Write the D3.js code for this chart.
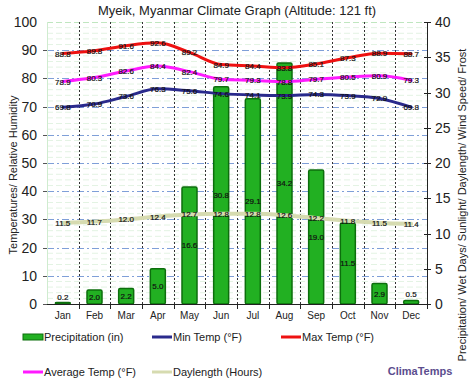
<!DOCTYPE html>
<html><head><meta charset="utf-8">
<script src="https://cdn.jsdelivr.net/npm/d3@7"></script>
<style>body{margin:0;background:#fff}svg{display:block}text{font-family:"Liberation Sans",Arial,sans-serif}</style>
</head><body><svg id="c" width="474" height="389"></svg>
<script>
const months=["Jan","Feb","Mar","Apr","May","Jun","Jul","Aug","Sep","Oct","Nov","Dec"];
const precip=[0.2,2.0,2.2,5.0,16.6,30.8,29.1,34.2,19.0,11.5,2.9,0.5];
const minTemp=[69.8,70.9,73.6,76.3,75.6,74.6,74.1,73.9,74.3,73.9,72.9,69.8];
const maxTemp=[88.8,89.8,91.6,92.6,89.2,84.9,84.4,83.8,85.1,87.3,88.9,88.7];
const avgTemp=[78.9,80.3,82.6,84.4,82.4,79.7,79.3,78.8,79.7,80.5,80.9,79.3];
const daylength=[11.5,11.7,12.0,12.4,12.7,12.8,12.8,12.6,12.2,11.8,11.5,11.4];
const leftTicks=[0,10,20,30,40,50,60,70,80,90,100];
const rightTicks=[0,5,10,15,20,25,30,35,40];

const svg=d3.select("#c");
const L=47,R=427,T=22,B=304;
const x=d3.scaleBand().domain(months).range([L,R]);
const yL=d3.scaleLinear().domain([0,100]).range([B,T]);
const yR=d3.scaleLinear().domain([0,40]).range([B,T]);
const cx=m=>x(m)+x.bandwidth()/2;

// minor grid
svg.append("g").selectAll("line").data(d3.range(2,100,2).filter(v=>v%10!==0)).join("line")
 .attr("x1",L).attr("x2",R).attr("y1",d=>yL(d)).attr("y2",d=>yL(d))
 .attr("stroke","#e3f3e3").attr("stroke-width",1).attr("stroke-dasharray","6,3");
// major grid
svg.append("g").selectAll("line").data(leftTicks.filter(v=>v>0&&v<100)).join("line")
 .attr("x1",L).attr("x2",R).attr("y1",d=>Math.round(yL(d))+0.5).attr("y2",d=>Math.round(yL(d))+0.5)
 .attr("stroke","#7f9fd8").attr("stroke-width",1).attr("stroke-dasharray","7,3,2,3");
svg.append("line").attr("x1",L).attr("x2",R).attr("y1",T+0.5).attr("y2",T+0.5)
 .attr("stroke","#bfe6bf").attr("stroke-dasharray","6,3");
svg.append("line").attr("x1",L+0.5).attr("x2",L+0.5).attr("y1",T).attr("y2",B)
 .attr("stroke","#cfeccf");
// vertical dotted
svg.append("g").selectAll("line").data(months.slice(1)).join("line")
 .attr("x1",d=>Math.round(x(d))+0.5).attr("x2",d=>Math.round(x(d))+0.5).attr("y1",T).attr("y2",B)
 .attr("stroke","#333").attr("stroke-width",1).attr("stroke-dasharray","2,2");

// bars
const bw=15;
svg.append("g").selectAll("rect").data(precip).join("rect")
 .attr("x",(d,i)=>cx(months[i])-bw/2).attr("width",bw)
 .attr("y",d=>yR(d)).attr("height",d=>B-yR(d))
 .attr("fill","#22b022").attr("stroke","#0c6e0c").attr("stroke-width",1.5).attr("rx",1.5);

// axes lines
svg.append("line").attr("x1",L-4).attr("x2",R).attr("y1",B+0.5).attr("y2",B+0.5).attr("stroke","#222");
svg.append("g").selectAll("line").data(months.slice(1).map(m=>x(m)).concat([R])).join("line")
 .attr("x1",d=>Math.round(d)+0.5).attr("x2",d=>Math.round(d)+0.5).attr("y1",B).attr("y2",B+5).attr("stroke","#222");
svg.append("line").attr("x1",R+0.5).attr("x2",R+0.5).attr("y1",T).attr("y2",B).attr("stroke","#222");
svg.append("g").selectAll("line").data(rightTicks).join("line")
 .attr("x1",R-3).attr("x2",R+4).attr("y1",d=>Math.round(yR(d))+0.5).attr("y2",d=>Math.round(yR(d))+0.5).attr("stroke","#222");
svg.append("g").selectAll("line").data(leftTicks.filter(v=>v<100)).join("line")
 .attr("x1",L-4).attr("x2",L).attr("y1",d=>Math.round(yL(d))+0.5).attr("y2",d=>Math.round(yL(d))+0.5).attr("stroke","#555");

// tick labels
svg.append("g").selectAll("text").data(leftTicks).join("text")
 .attr("x",37).attr("y",d=>yL(d)+5).attr("text-anchor","end").attr("font-size",14).attr("fill","#222").text(d=>d);
svg.append("g").selectAll("text").data(rightTicks).join("text")
 .attr("x",435).attr("y",d=>yR(d)+5).attr("font-size",14).attr("fill","#222").text(d=>d);
svg.append("g").selectAll("text").data(months).join("text")
 .attr("x",d=>cx(d)).attr("y",319).attr("text-anchor","middle").attr("font-size",10).attr("fill","#222").text(d=>d);

// lines
const curve=d3.curveMonotoneX;
function drawLine(data,scale,color,w){
 svg.append("path").datum(data).attr("fill","none").attr("stroke",color).attr("stroke-width",w)
  .attr("stroke-linecap","round")
  .attr("d",d3.line().x((d,i)=>cx(months[i])).y(d=>scale(d)).curve(curve));
}
drawLine(daylength,yR,"#d6dbb0",4);
drawLine(minTemp,yL,"#2a2a8c",3);
drawLine(avgTemp,yL,"#ff1aff",3);
drawLine(maxTemp,yL,"#ee1111",3);

function labels(data,scale){
 svg.append("g").selectAll("text").data(data).join("text")
  .attr("x",(d,i)=>cx(months[i])).attr("y",d=>scale(d)+3).attr("text-anchor","middle")
  .attr("font-size",8).attr("fill","#111").attr("stroke","#111").attr("stroke-width",0.2).text(d=>d.toFixed(1));
}
labels(maxTemp,yL);labels(avgTemp,yL);labels(minTemp,yL);labels(daylength,yR);
// precip labels at middle of bars (tiny bars above)
svg.append("g").selectAll("text").data(precip).join("text")
 .attr("x",(d,i)=>cx(months[i])).attr("y",d=>(B-yR(d))<10? yR(d)-3 : (yR(d)+B)/2+3)
 .attr("text-anchor","middle").attr("font-size",8).attr("fill","#111").attr("stroke","#111").attr("stroke-width",0.2).text(d=>d.toFixed(1));

// titles
svg.append("text").attr("x",237).attr("y",15).attr("text-anchor","middle").attr("font-size",13).attr("fill","#222")
 .text("Myeik, Myanmar Climate Graph (Altitude: 121 ft)");
svg.append("text").attr("transform","translate(17,175) rotate(-90)").attr("text-anchor","middle").attr("font-size",11).attr("fill","#222")
 .text("Temperatures/ Relative Humidity");
svg.append("text").attr("transform","translate(466,205) rotate(-90)").attr("text-anchor","middle").attr("font-size",11).attr("fill","#222")
 .text("Precipitation/ Wet Days/ Sunlight/ Daylength/ Wind Speed/ Frost");

// legend
const legend=[
 {name:"Precipitation (in)",color:"#22b022",stroke:"#0c6e0c",x:23,y:337,bar:true},
 {name:"Min Temp (°F)",color:"#2a2a8c",x:152,y:337},
 {name:"Max Temp (°F)",color:"#ee1111",x:281,y:337},
 {name:"Average Temp (°F)",color:"#ff1aff",x:23,y:372},
 {name:"Daylength (Hours)",color:"#d6dbb0",x:152,y:372}];
const lg=svg.append("g").selectAll("g").data(legend).join("g");
lg.each(function(d){
 const g=d3.select(this);
 if(d.bar) g.append("rect").attr("x",d.x).attr("y",d.y-3).attr("width",20).attr("height",6).attr("fill",d.color).attr("stroke",d.stroke).attr("stroke-width",1);
 else g.append("line").attr("x1",d.x).attr("x2",d.x+20).attr("y1",d.y).attr("y2",d.y).attr("stroke",d.color).attr("stroke-width",3);
 g.append("text").attr("x",d.x+21).attr("y",d.y+4).attr("font-size",11).attr("fill","#222").text(d.name);
});
svg.append("text").attr("x",420).attr("y",375).attr("text-anchor","middle").attr("font-size",11).attr("font-weight","bold").attr("fill","#5b4d8e").text("ClimaTemps");
</script></body></html>
